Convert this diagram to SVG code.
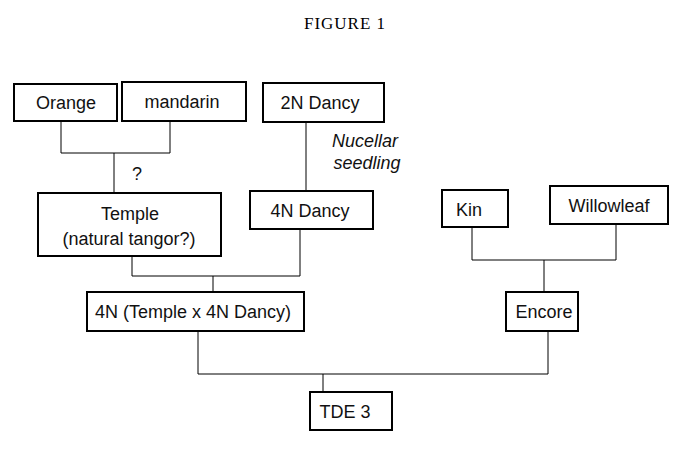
<svg xmlns="http://www.w3.org/2000/svg" width="700" height="459" viewBox="0 0 700 459">
<style>
.b{fill:#fff;stroke:#000;stroke-width:2}
.t{font-family:"Liberation Sans",Arial,sans-serif;font-size:18px;text-anchor:middle;fill:#111}
.c{fill:none;stroke:#000;stroke-width:1}
</style>
<rect width="700" height="459" fill="#fff"/>
<text x="345" y="29" font-family="Liberation Serif,serif" font-size="17" text-anchor="middle" letter-spacing="1">FIGURE 1</text>
<g id="connectors" class="c">
<path d="M61 121V153H170V121M114 153V193"/>
<path d="M306 122V191"/>
<path d="M132 256V276H300V229M213 276V292"/>
<path d="M472 227V260H616V224M544 260V292"/>
<path d="M198 331V374H548V331M323 374V392"/>
</g>
<text x="137" y="180" class="t" font-size="16">?</text>
<text x="365" y="147" class="t" font-style="italic">Nucellar</text>
<text x="367" y="169" class="t" font-style="italic">seedling</text>
<g id="orange"><rect class="b" x="14" y="84" width="103" height="37"/><text class="t" x="66" y="109">Orange</text></g>
<g id="mandarin"><rect class="b" x="122" y="82" width="124" height="39"/><text class="t" x="182" y="108">mandarin</text></g>
<g id="dancy2n"><rect class="b" x="263" y="83" width="121" height="39"/><text class="t" x="320" y="109">2N Dancy</text></g>
<g id="temple"><rect class="b" x="38" y="193" width="183" height="63"/><text class="t" x="130" y="220">Temple</text><text class="t" x="129" y="245">(natural tangor?)</text></g>
<g id="dancy4n"><rect class="b" x="250" y="191" width="123" height="38"/><text class="t" x="310" y="217">4N Dancy</text></g>
<g id="kin"><rect class="b" x="442" y="190" width="66" height="37"/><text class="t" x="469" y="216">Kin</text></g>
<g id="willowleaf"><rect class="b" x="550" y="186" width="118" height="38"/><text class="t" x="609" y="212">Willowleaf</text></g>
<g id="cross4n"><rect class="b" x="87" y="292" width="217" height="39"/><text class="t" x="193" y="318">4N (Temple x 4N Dancy)</text></g>
<g id="encore"><rect class="b" x="506" y="292" width="72" height="39"/><text class="t" x="544" y="318">Encore</text></g>
<g id="tde3"><rect class="b" x="310" y="392" width="82" height="38"/><text class="t" x="345" y="418">TDE 3</text></g>
</svg>
